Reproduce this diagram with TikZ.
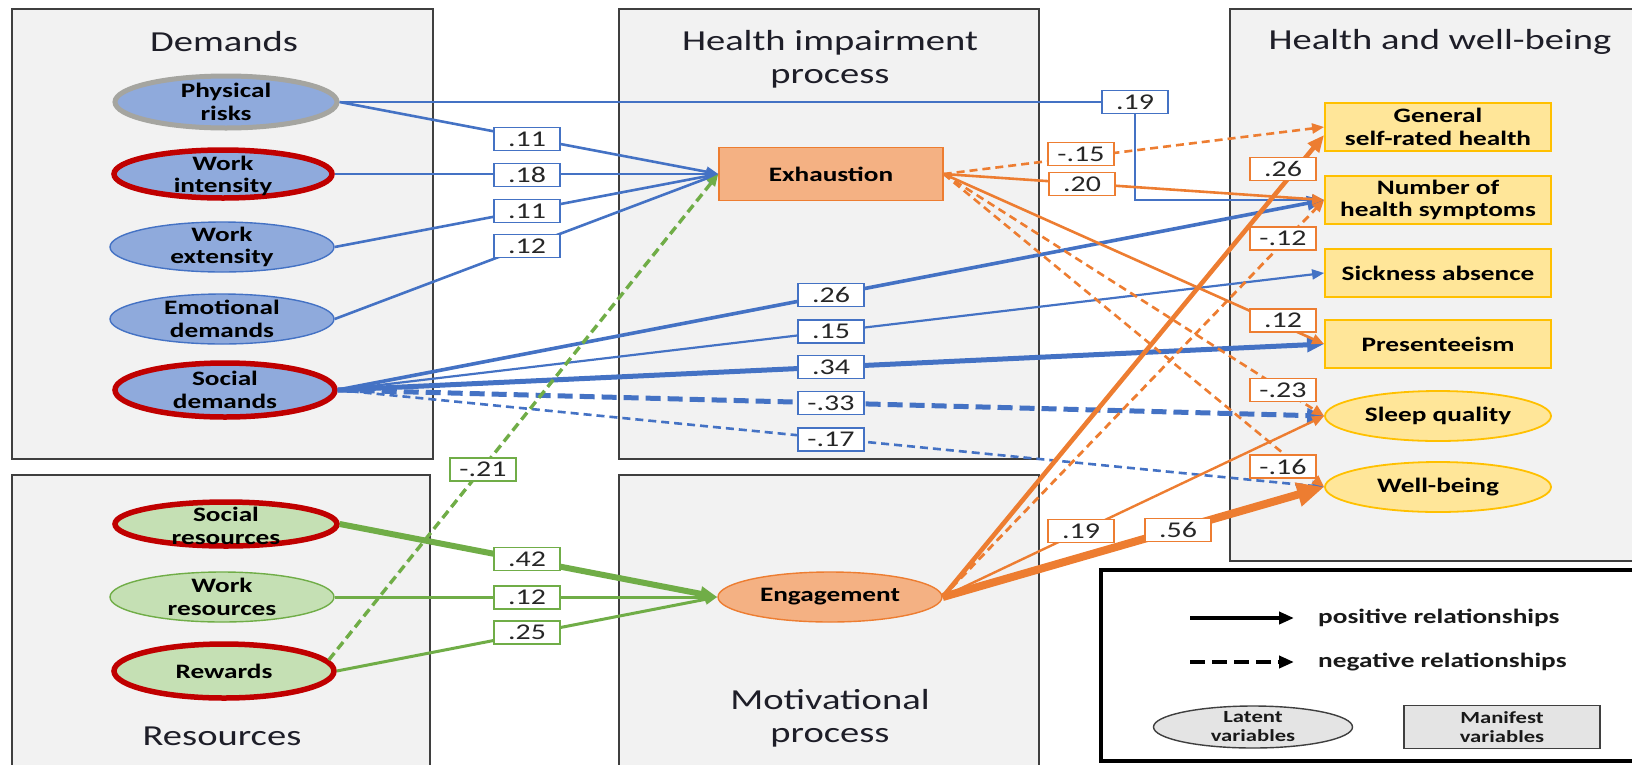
\documentclass[tikz,border=0pt]{standalone}
\usepackage{fontspec}
\setmainfont{Carlito}[FakeStretch=1.33]
\usetikzlibrary{arrows.meta,shapes.geometric,calc}
\definecolor{bl}{HTML}{4472C4}
\definecolor{gl}{HTML}{70AD47}
\definecolor{ol}{HTML}{ED7D31}
\definecolor{bfill}{HTML}{8FAADC}
\definecolor{gfill}{HTML}{C5E0B4}
\definecolor{ofill}{HTML}{F4B183}
\definecolor{yfill}{HTML}{FFE699}
\definecolor{ydraw}{HTML}{FFC000}
\definecolor{redc}{HTML}{C00000}
\definecolor{grayring}{HTML}{A5A5A0}
\definecolor{panelf}{HTML}{F2F2F2}
\definecolor{panelb}{HTML}{3F3F3F}
\definecolor{ttlc}{HTML}{1E1E28}
\definecolor{lgray}{HTML}{E4E4E4}
\tikzset{
  panel/.style={draw=panelb, fill=panelf, line width=1.4pt},
  ttl/.style={font=\fontsize{29}{33}\selectfont, text=ttlc, align=center, inner sep=0pt},
  vt/.style={font=\fontsize{20.5}{22.5}\selectfont\bfseries, align=center, inner sep=0pt, text=black},
  var/.style={ellipse, inner sep=0pt},
  dem/.style={var, fill=bfill, draw=bl, line width=1.4pt},
  res/.style={var, fill=gfill, draw=gl, line width=1.4pt},
  redring/.style={draw=redc, line width=5.5pt},
  man/.style={rectangle, fill=yfill, draw=ydraw, line width=1.8pt, minimum width=226pt, minimum height=48pt, inner sep=0pt, vt},
  hwe/.style={ellipse, fill=yfill, draw=ydraw, line width=1.8pt, minimum width=226pt, minimum height=50pt, inner sep=0pt},
  lbl/.style={rectangle, fill=white, line width=1.6pt, minimum width=66pt, minimum height=23pt, inner sep=0pt, font=\fontsize{22.5}{23}\selectfont, text=black!85},
  lb/.style={lbl, draw=bl},
  lg/.style={lbl, draw=gl},
  lo/.style={lbl, draw=ol},
  eb/.style={draw=bl, line width=2.6pt},
  eg/.style={draw=gl, line width=3pt},
  eo/.style={draw=ol, line width=2.6pt},
  dsh/.style={dash pattern=on 8pt off 5pt},
  tipS/.style={-{Triangle[length=12pt,width=10pt]}},
  tipM/.style={-{Triangle[length=17pt,width=14pt]}},
  tipL/.style={-{Triangle[length=27pt,width=23pt]}},
  legt/.style={font=\fontsize{20.5}{22}\selectfont\bfseries, text=black!90, inner sep=0pt, anchor=west},
  legs/.style={font=\fontsize{17}{19}\selectfont\bfseries, align=center, inner sep=0pt, text=black!90}
}
\begin{document}
\begin{tikzpicture}[x=1pt,y=-1pt]
\useasboundingbox (0,0) rectangle (1632,764);
\clip (0,0) rectangle (1632,764);
% panels
\draw[panel] (12,9) rectangle (433,459);
\draw[panel] (12,475) rectangle (430,790);
\draw[panel] (619,9) rectangle (1039,459);
\draw[panel] (619,475) rectangle (1039,790);
\draw[panel] (1230,9) rectangle (1660,561);
% titles
\node[ttl] (tdem) at (224,42) {Demands};
\node[ttl] (thi) at (830,59) {Health impairment\\process};
\node[ttl] (thw) at (1440,42) {Health and well-being};
\node[ttl] (tres) at (222,736) {Resources};
\node[ttl] (tmot) at (830,718) {Motivational\\process};
% demands
\node[dem, draw=grayring, line width=5pt, minimum width=222pt, minimum height=52pt, label={[vt]center:{Physical\\risks}}] (phys) at (226,102) {};
\node[dem, redring, minimum width=218pt, minimum height=48pt, label={[vt, yshift=-2pt]center:{Work\\intensity}}] (wint) at (223,174) {};
\node[dem, minimum width=224pt, minimum height=50pt, label={[vt]center:{Work\\extensity}}] (wext) at (222,247) {};
\node[dem, minimum width=224pt, minimum height=50pt, label={[vt]center:{Emotional\\demands}}] (emo) at (222,319) {};
\node[dem, redring, minimum width=220pt, minimum height=54pt, label={[vt]center:{Social\\demands}}] (socd) at (225,390) {};
% resources
\node[res, redring, minimum width=222pt, minimum height=44pt, label={[vt, yshift=-2pt]center:{Social\\resources}}] (socr) at (226,524) {};
\node[res, minimum width=224pt, minimum height=50pt, label={[vt]center:{Work\\resources}}] (wres) at (222,597) {};
\node[res, redring, minimum width=220pt, minimum height=54pt, label={[vt]center:{Rewards}}] (rew) at (224,671) {};
% mediators
\node[rectangle, fill=ofill, draw=ol, line width=1.4pt, minimum width=224pt, minimum height=53pt, inner sep=0pt, vt] (exh) at (831,174) {Exhaustion};
\node[ellipse, fill=ofill, draw=ol, line width=1.4pt, minimum width=224pt, minimum height=50pt, inner sep=0pt, label={[vt]center:{Engagement}}] (eng) at (830,597) {};
% outcomes
\node[man] (gen) at (1438,127) {General\\self-rated health};
\node[man] (num) at (1438,200) {Number of\\health symptoms};
\node[man] (sick) at (1438,273) {Sickness absence};
\node[man] (pres) at (1438,344) {Presenteeism};
\node[hwe, label={[vt]center:{Sleep quality}}] (sleep) at (1438,416) {};
\node[hwe, label={[vt]center:{Well-being}}] (well) at (1438,487) {};
% edges blue
\coordinate (c19) at (1135,102);
\draw[eb, tipS] (phys.east) -- (c19) |- (num.west);
\draw[eb, tipS] (phys.east) -- (exh.west);
\draw[eb, tipS] (wint.east) -- (exh.west);
\draw[eb, tipS] (wext.east) -- (exh.west);
\draw[eb, tipS] (emo.east) -- (exh.west);
\draw[eb, line width=3.6pt, tipM] (socd.east) -- (num.west);
\draw[eb, line width=2.2pt, tipS] (socd.east) -- (sick.west);
\draw[eb, line width=5pt, tipM] (socd.east) -- (pres.west);
\draw[eb, line width=5pt, dash pattern=on 15pt off 7pt, tipM] (socd.east) -- (sleep.west);
\draw[eb, line width=2.6pt, dsh, tipS] (socd.east) -- (well.west);
% edges green
\draw[eg, line width=3.4pt, dash pattern=on 9pt off 5pt, tipS] (rew.6) -- (exh.west);
\draw[eg, line width=6pt, tipM] (socr.east) -- (eng.west);
\draw[eg, tipS] (wres.east) -- (eng.west);
\draw[eg, tipS] (rew.east) -- (eng.west);
% edges orange
\draw[eo, dsh, tipS] (exh.east) -- (gen.west);
\draw[eo, tipS] (exh.east) -- (num.west);
\draw[eo, tipS] (exh.east) -- (pres.west);
\draw[eo, dsh, tipS] (exh.east) -- (sleep.west);
\draw[eo, dsh, tipS] (exh.east) -- (well.west);
\draw[eo, line width=4.6pt, tipM] (eng.east) -- ($(gen.west)+(0,8)$);
\draw[eo, line width=2.8pt, dsh, tipS] (eng.east) -- (num.west);
\draw[eo, line width=2.4pt, tipS] (eng.east) -- (sleep.west);
\draw[eo, line width=8pt, tipL] (eng.east) -- (well.west);
% labels blue
\node[lb] (l19) at (c19) {.19};
\node[lb] (l11a) at (527,139) {.11};
\node[lb] (l18) at (527,175) {.18};
\node[lb] (l11b) at (527,211) {.11};
\node[lb] (l12a) at (527,246) {.12};
\node[lb] (l26b) at (831,295) {.26};
\node[lb] (l15) at (831,331.5) {.15};
\node[lb] (l34) at (831,367) {.34};
\node[lb] (l33) at (831,403) {-.33};
\node[lb] (l17) at (831,439.5) {-.17};
% labels green
\node[lg] (l21) at (483,469.5) {-.21};
\node[lg] (l42) at (527,559) {.42};
\node[lg] (l12g) at (527,597.5) {.12};
\node[lg] (l25) at (527,632.5) {.25};
% labels orange
\node[lo] (l15o) at (1081,154) {-.15};
\node[lo] (l20) at (1082,184) {.20};
\node[lo] (l26o) at (1283,169) {.26};
\node[lo] (l12o) at (1283,238.5) {-.12};
\node[lo] (l12p) at (1283,320.5) {.12};
\node[lo] (l23) at (1283,390) {-.23};
\node[lo] (l16) at (1283,466.5) {-.16};
\node[lo] (l19o) at (1081,531) {.19};
\node[lo] (l56) at (1178,530) {.56};
% legend
\draw[draw=black, fill=white, line width=3.5pt] (1101,570) rectangle (1660,761);
\coordinate (pa) at (1190,618);
\coordinate (pb) at (1294,618);
\coordinate (na) at (1190,662);
\coordinate (nb) at (1294,662);
\draw[line width=3.8pt, -{Triangle[length=15pt,width=12pt]}] (pa) -- (pb);
\draw[line width=3.8pt, dash pattern=on 15pt off 7pt, -{Triangle[length=15pt,width=12pt]}] (na) -- (nb);
\node[legt] (pt) at (1318,618) {positive relationships};
\node[legt] (nt) at (1318,662) {negative relationships};
\node[ellipse, fill=lgray, draw=panelb, line width=1.4pt, minimum width=199pt, minimum height=42pt, inner sep=0pt, label={[legs]center:{Latent\\variables}}] (lat) at (1253,727) {};
\node[rectangle, fill=lgray, draw=panelb, line width=1.6pt, minimum width=196pt, minimum height=43pt, inner sep=0pt, legs] (manif) at (1502,727) {Manifest\\variables};
\end{tikzpicture}
\end{document}
